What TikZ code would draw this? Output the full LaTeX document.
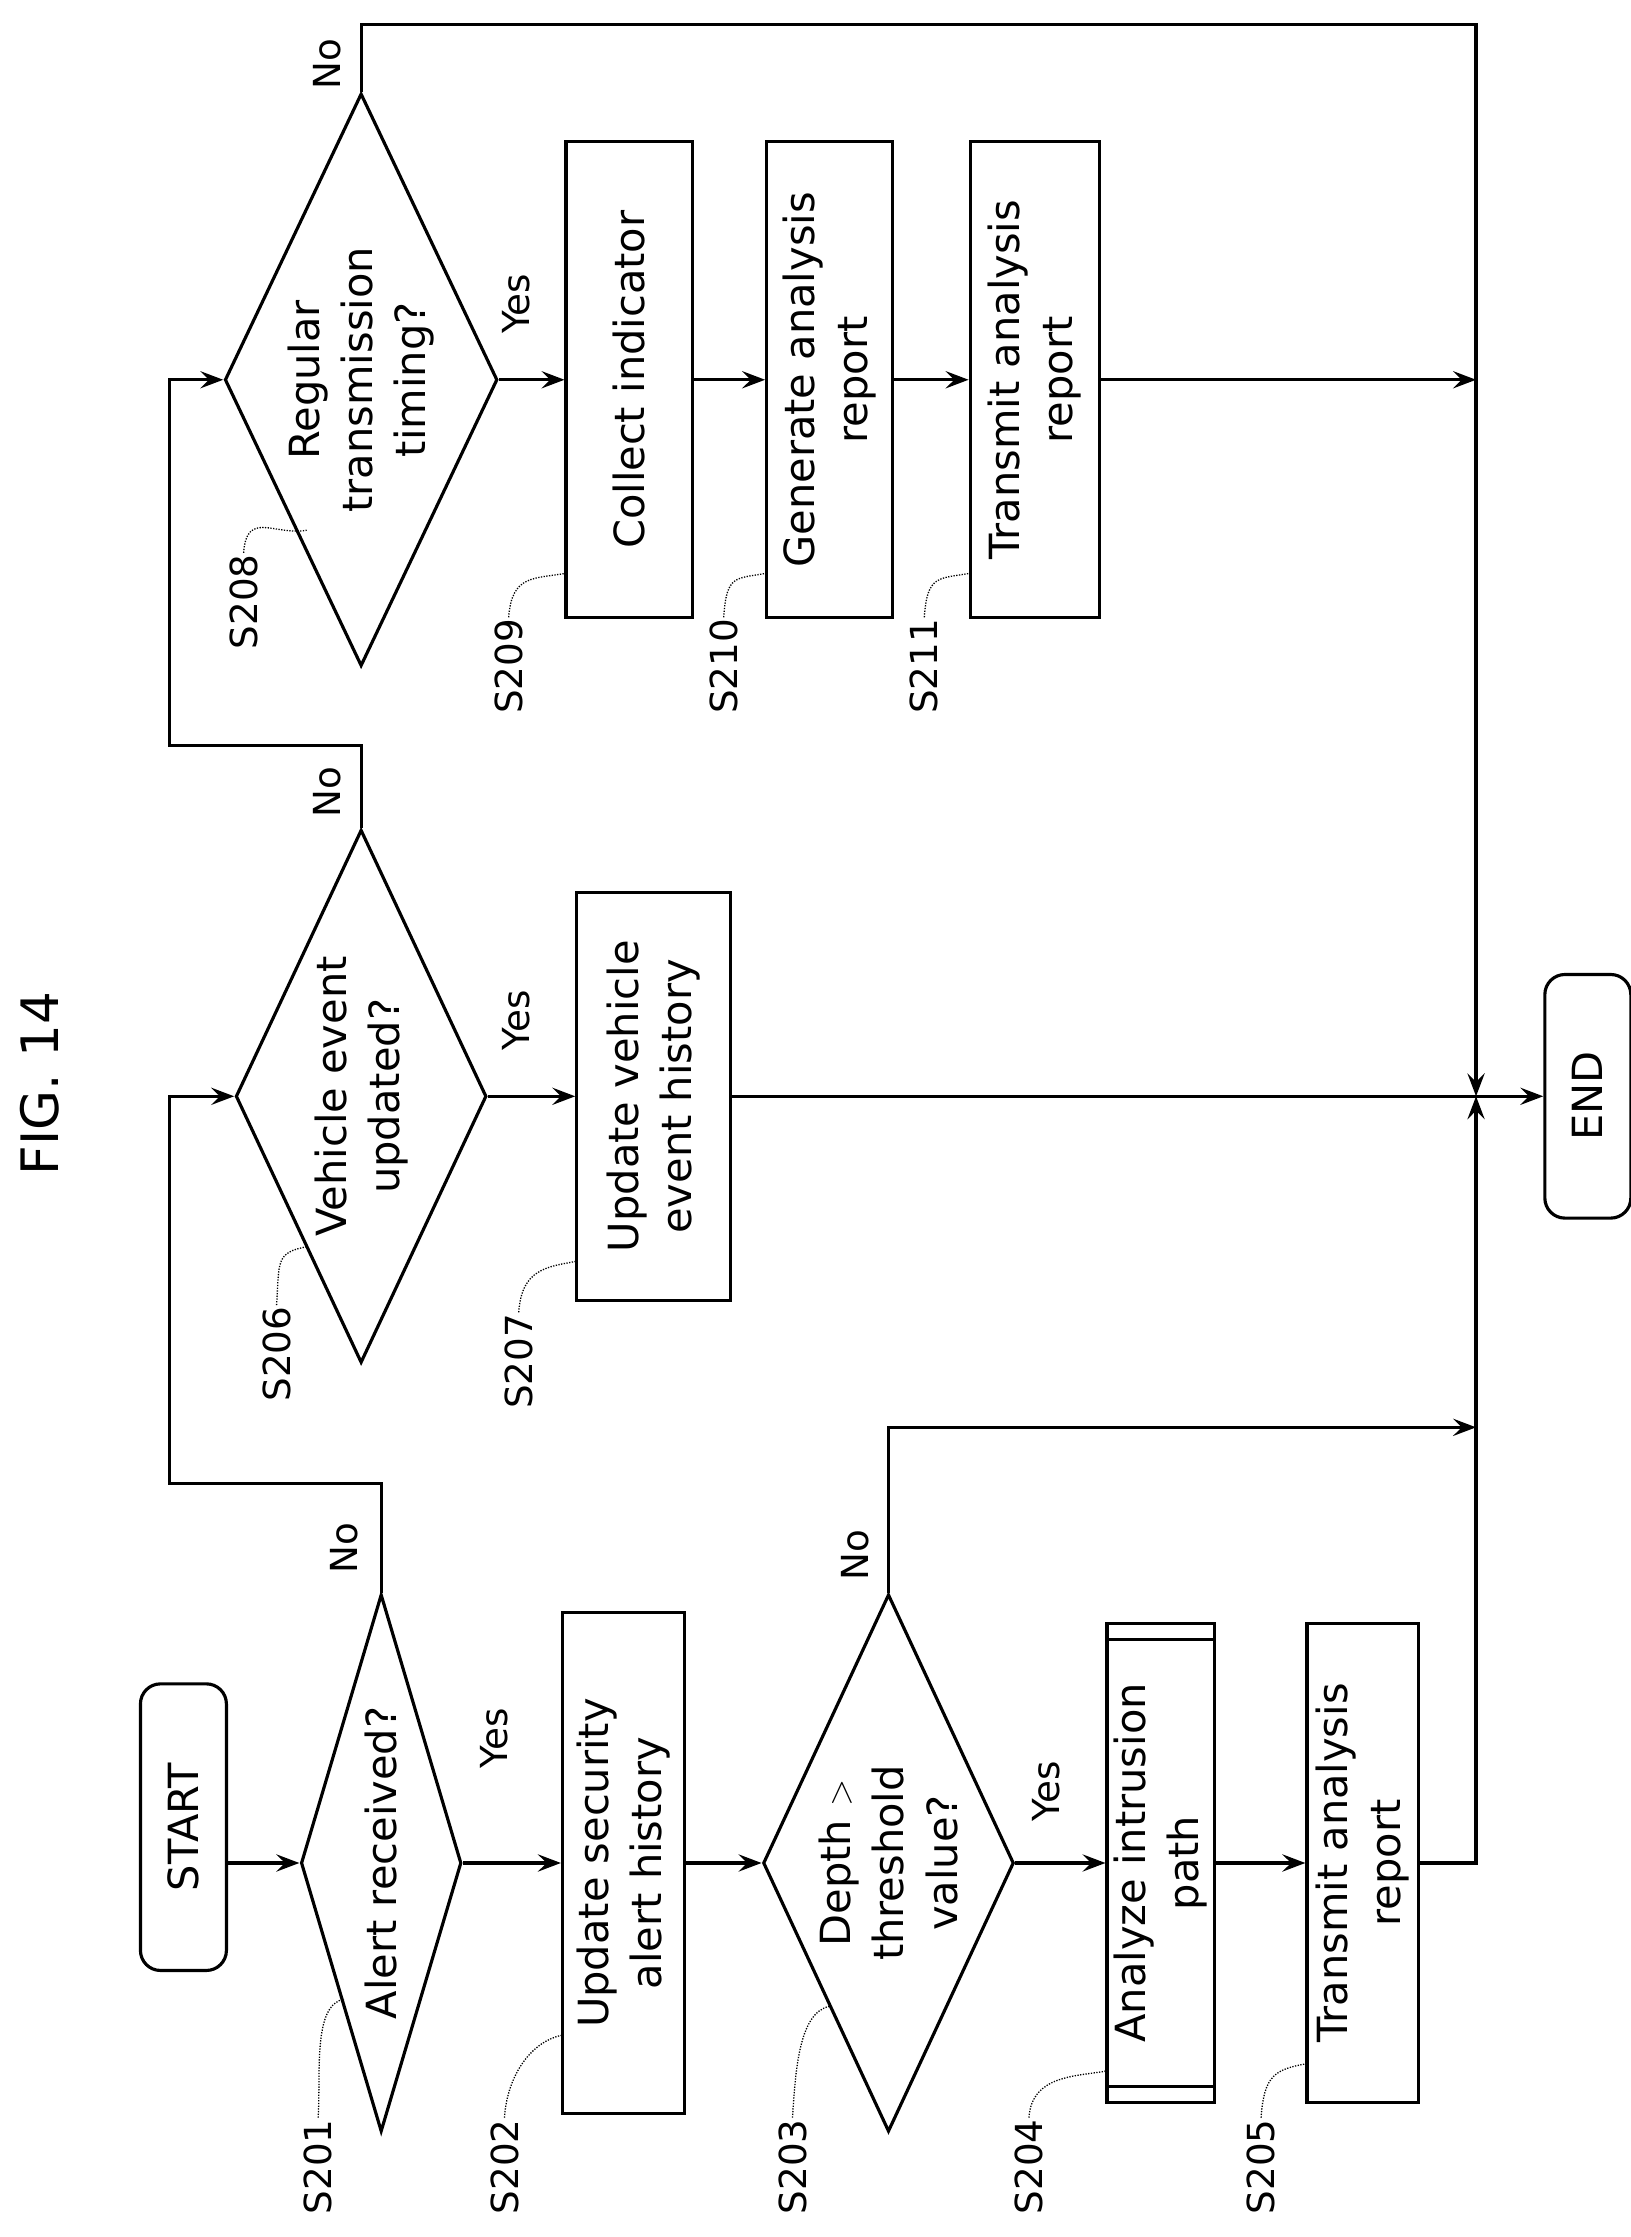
\documentclass[tikz,border=0pt]{standalone}
\usepackage{fontspec}
\setmainfont{DejaVu Sans}
\usetikzlibrary{shapes.geometric,arrows.meta,calc}
\begin{document}
\begin{tikzpicture}[x=1pt,y=-1pt,
  every node/.style={font=\fontsize{29}{37}\selectfont},
  box/.style={draw,line width=2.2pt,rotate=90,align=center,inner sep=0pt},
  dia/.style={draw,line width=2.2pt,diamond,rotate=90,align=center,inner sep=0pt},
  term/.style={box,rounded corners=14pt},
  lab/.style={rotate=90,font=\fontsize{26}{30}\selectfont,inner sep=1pt},
  yn/.style={rotate=90,font=\fontsize{26}{30}\selectfont},
  lead/.style={densely dotted,line width=0.9pt},
  line/.style={line width=2.2pt},
  arr/.style={line width=2.2pt,-{Stealth[length=16pt,width=12pt,inset=6pt]}}]
\path[use as bounding box] (0,0) rectangle (1138,1561);
\node[rotate=90,font=\fontsize{36}{40}\selectfont] (title) at (28,756) {FIG. 14};

\node[term,minimum width=200,minimum height=60] (start) at (128,1275) {START};
\node[dia,minimum width=375,minimum height=112,shape aspect=3.3] (s201) at (266,1300) {Alert received?};
\node[box,minimum width=350,minimum height=85] (s202) at (435,1300) {Update security\\alert history};
\node[dia,minimum width=375,minimum height=175,shape aspect=2.1] (s203) at (620,1300) {Depth $>$\\threshold\\value?};
\node[box,minimum width=334,minimum height=75] (s204) at (810,1300) {Analyze intrusion\\path};
\node[box,minimum width=334,minimum height=78] (s205) at (951,1300) {Transmit analysis\\report};
\node[dia,minimum width=372,minimum height=175,shape aspect=2.1] (s206) at (252,765) {Vehicle event\\updated?};
\node[box,minimum width=285,minimum height=107] (s207) at (456,765) {Update vehicle\\event history};
\node[dia,minimum width=370,minimum height=175,shape aspect=2.1] (s208) at (252,265) {Regular\\transmission\\timing?};
\node[box,minimum width=332,minimum height=88] (s209) at (439,265) {Collect indicator};
\node[box,minimum width=332,minimum height=88] (s210) at (579,265) {Generate analysis\\report};
\node[box,minimum width=332,minimum height=90] (s211) at (722,265) {Transmit analysis\\report};
\node[term,minimum width=170,minimum height=60] (end) at (1108,765) {END};

\draw[line] ($(s204.north east)+(0,12)$) -- ($(s204.south east)+(0,12)$);
\draw[line] ($(s204.north west)+(0,-12)$) -- ($(s204.south west)+(0,-12)$);

\coordinate (J) at (1030,765);
\coordinate (colT) at (1030,17);
\coordinate (c211) at (1030,265);
\coordinate (c203) at (1030,996);
\coordinate (n201) at (118,1035);
\coordinate (n206) at (118,520);
\coordinate (n203) at (620,996);

\draw[arr] (s201.north -| start.south) -- (s201.north);
\draw[arr] (s201.south) -- (s202.north);
\draw[arr] (s202.south) -- (s203.north);
\draw[arr] (s203.south) -- (s204.north);
\draw[arr] (s204.south) -- (s205.north);
\draw[arr] (s206.south) -- (s207.north);
\draw[arr] (s208.south) -- (s209.north);
\draw[arr] (s209.south) -- (s210.north);
\draw[arr] (s210.south) -- (s211.north);
\draw[arr] (s201.east) |- (n201) |- (s206.north);
\draw[arr] (s206.east) |- (n206) |- (s208.north);
\draw[arr] (s208.east) |- (colT) -- (J);
\draw[arr] (s211.south) -- (c211);
\draw[arr] (s205.south) -| (J);
\draw[arr] (s203.east) -- (n203) -- (c203);
\draw[line] (s207.south) -- (J);
\draw[arr] (J) -- (end.north);

\node[yn] at (345,1213) {Yes};
\node[yn] at (730,1250) {Yes};
\node[yn] at (360,712) {Yes};
\node[yn] at (360,212) {Yes};
\node[yn] at (240,1080) {No};
\node[yn] at (597,1085) {No};
\node[yn] at (228,553) {No};
\node[yn] at (228,45) {No};

\foreach \n/\x/\y/\tx/\ty in {201/222/1512/240/1395, 202/352/1512/393/1420, 203/553/1512/579/1400,
  204/718/1512/773/1445, 205/880/1512/912/1440, 206/193/945/214/870, 207/362/950/403/880,
  208/170/420/214/370, 209/355/465/395/400, 210/505/465/535/400, 211/645/465/677/400}{
  \node[lab] (L\n) at (\x,\y) {S\n};
  \coordinate (T\n) at (\tx,\ty);
  \draw[lead] (L\n.east) .. controls +(2,-30) and +(-22,4) .. (T\n);
}
\end{tikzpicture}
\end{document}
